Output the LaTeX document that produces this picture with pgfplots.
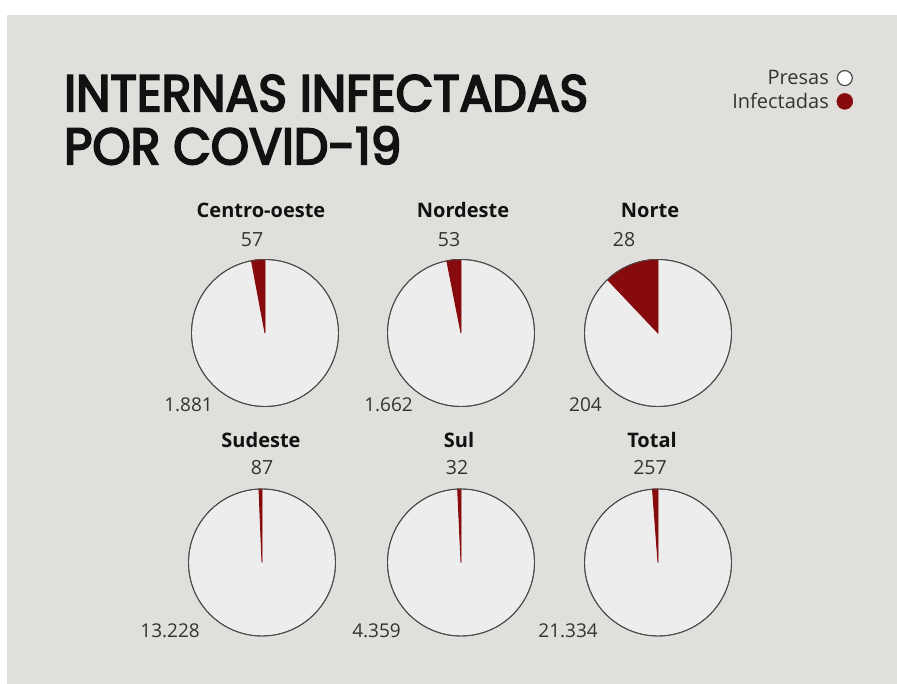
\documentclass[border=0pt]{standalone}
\usepackage{fontspec}
\usepackage{graphicx}
\usepackage{pgfplots}
\usepackage{pgfplotstable}
\pgfplotsset{compat=1.18}
\setmainfont{Open Sans}
\newfontfamily\titlefont{Poppins}[FakeBold=4]
\definecolor{panel}{HTML}{E0DFDB}
\definecolor{piefill}{HTML}{EDEDED}
\definecolor{pieline}{HTML}{4A4A4A}
\definecolor{wine}{HTML}{870B0D}
\definecolor{txt}{HTML}{333333}
\definecolor{head}{HTML}{111111}

% region, pie centre (layout, pixels), presas, infectadas
\pgfplotstableread{
region x   y     pres  inf
CO     265 333   1881  57
NE     461 333   1662  53
N      658 333   204   28
SE     262 562.5 13228 87
S      461 562.5 4359  32
T      658 562.5 21334 257
}\piedata

\begin{document}
\begin{tikzpicture}
\fill[white] (0pt,0pt) rectangle (897pt,684pt);
\fill[panel] (7pt,0pt) rectangle (897pt,669pt);
\begin{axis}[
  at={(0pt,0pt)}, anchor=south west,
  scale only axis, width=897pt, height=684pt,
  xmin=0, xmax=897, ymin=0, ymax=684, y dir=reverse,
  hide axis, clip=false,
  legend plot pos=right,
  legend cell align=right,
  legend style={at={(axis cs:856,66)}, anchor=north east, draw=none, fill=none,
    font=\fontsize{20}{24}\selectfont, text=txt, row sep=3pt, column sep=6pt},
]
\addlegendimage{only marks, mark=*, mark size=7.5pt, mark options={fill=white, draw=pieline, line width=1.2pt}}
\addlegendentry{Presas}
\addlegendimage{only marks, mark=*, mark size=8pt, mark options={fill=wine, draw=wine}}
\addlegendentry{Infectadas}

\addplot[forget plot, scatter, only marks, mark=*, mark size=73.5pt,
  point meta={\thisrow{inf}/(\thisrow{inf}+\thisrow{pres})},
  point meta min=0, point meta max=1,
  mark options={fill=piefill, draw=pieline, line width=0.9pt},
  scatter/@pre marker code/.code={},
  scatter/@post marker code/.code={%
    \pgfmathsetmacro{\pieang}{0.36*\pgfplotspointmetatransformed}%
    \fill[wine] (0pt,0pt) -- (0pt,73.5pt) arc[start angle=90, delta angle=\pieang, radius=73.5pt] -- cycle;
    \draw[pieline, line width=0.9pt] (0pt,0pt) circle[radius=73.5pt];
  },
] table[x=x, y=y] {\piedata};

% title
\node[anchor=base west, inner sep=0pt, text=head] at (axis cs:64,111)
  {\resizebox{524pt}{\height}{\titlefont\fontsize{51}{52}\selectfont
   \begin{tabular}[t]{@{}l@{}}INTERNAS INFECTADAS\\POR COVID-19\end{tabular}}};

% region names
\begin{scope}[every node/.style={anchor=base, inner sep=0pt, text=head, font=\bfseries\fontsize{20}{24}\selectfont}]
\node at (axis cs:261,218) {Centro-oeste};
\node at (axis cs:463,218) {Nordeste};
\node at (axis cs:650,218) {Norte};
\node at (axis cs:261,448) {Sudeste};
\node at (axis cs:459,448) {Sul};
\node at (axis cs:652,448) {Total};
\end{scope}
% infected counts
\begin{scope}[every node/.style={anchor=base, inner sep=0pt, text=txt, font=\fontsize{19.5}{23}\selectfont}]
\node at (axis cs:252,247) {57};
\node at (axis cs:449,247) {53};
\node at (axis cs:624,247) {28};
\node at (axis cs:262,475) {87};
\node at (axis cs:457,475) {32};
\node at (axis cs:650,475) {257};
\end{scope}
% prisoner counts
\begin{scope}[every node/.style={anchor=base east, inner sep=0pt, text=txt, font=\fontsize{19}{23}\selectfont}]
\node at (axis cs:213,412) {1.881};
\node at (axis cs:413,412) {1.662};
\node at (axis cs:602,412) {204};
\node at (axis cs:200,637) {13.228};
\node at (axis cs:401,637) {4.359};
\node at (axis cs:598,637) {21.334};
\end{scope}
\end{axis}
\end{tikzpicture}
\end{document}
